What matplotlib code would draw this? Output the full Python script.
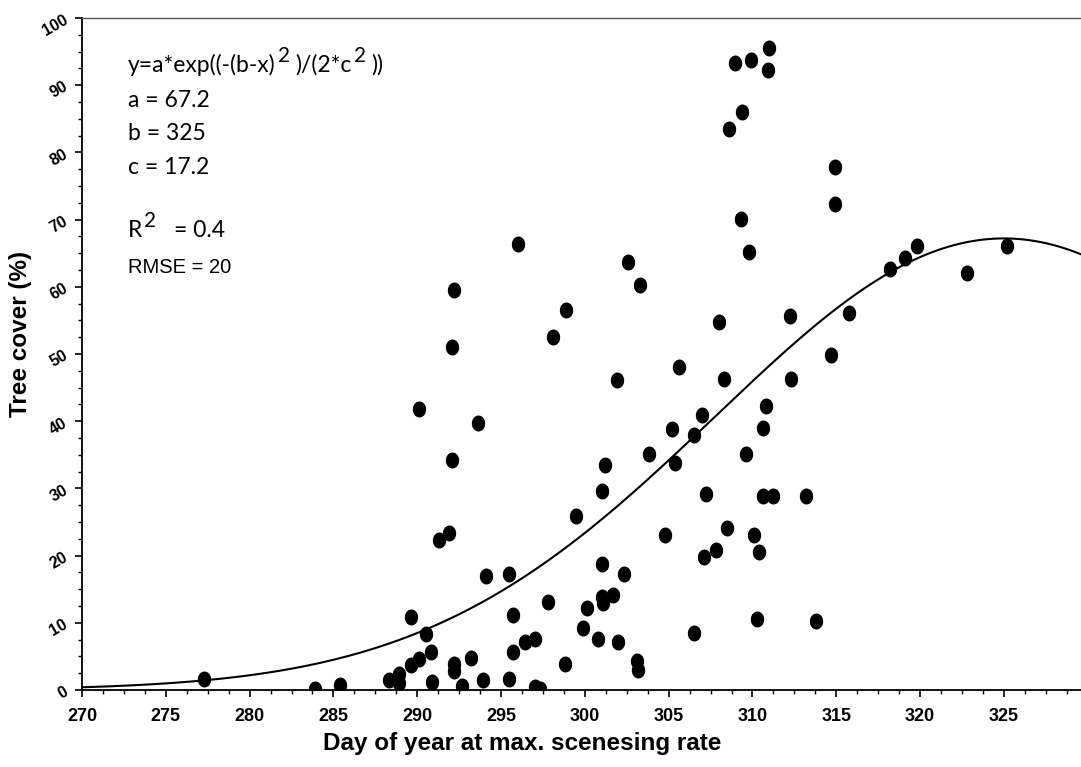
import matplotlib
matplotlib.use('Agg')
import matplotlib.pyplot as plt
import numpy as np
from matplotlib.path import Path
from matplotlib.ticker import MultipleLocator

# day of year at max. scenesing rate
day = [277.3, 283.9, 285.4, 288.3, 288.9, 288.9, 289.6, 290.1, 290.5, 290.8,
       290.9, 289.6, 292.2, 292.2, 292.7, 293.2, 293.9, 291.3, 291.9, 292.05,
       290.1, 293.6, 292.05, 292.2, 294.1, 295.5, 295.7, 295.7, 295.5, 296.4,
       297.0, 297.0, 297.3, 297.8, 298.8, 299.5, 298.1, 298.9, 299.9, 300.1,
       300.8, 301.0, 301.0, 301.1, 301.7, 301.0, 301.2, 301.9, 302.0, 302.35,
       303.1, 303.2, 303.8, 304.8, 305.2, 305.4, 305.6, 306.5, 306.5, 307.0,
       307.1, 307.2, 307.8, 308.0, 308.3, 308.5, 309.6, 310.1, 310.3, 310.4,
       310.65, 311.2, 310.65, 310.8, 313.2, 313.8, 314.7, 312.3, 312.25, 315.75,
       314.95, 314.9, 309.3, 309.8, 308.6, 309.4, 308.96, 309.9, 310.9, 311.0,
       302.6, 303.3, 296.0, 318.2, 319.1, 319.8, 322.8, 325.2]
# tree cover (%)
cover = [1.6, 0.1, 0.8, 1.5, 2.4, 1.1, 3.7, 4.6, 8.4, 5.7,
         1.2, 10.8, 3.9, 2.9, 0.6, 4.8, 1.5, 22.3, 23.4, 34.3,
         41.8, 39.8, 51.1, 59.5, 17.0, 17.2, 11.1, 5.6, 1.6, 7.1,
         7.6, 0.4, 0.2, 13.1, 3.9, 25.9, 52.6, 56.5, 9.2, 12.2,
         7.6, 18.8, 13.9, 12.9, 14.1, 29.6, 33.5, 46.2, 7.2, 17.3,
         4.3, 3.0, 35.1, 23.1, 38.9, 33.8, 48.0, 8.5, 38.0, 40.9,
         19.8, 29.1, 20.9, 54.7, 46.3, 24.1, 35.1, 23.1, 10.5, 20.6,
         28.9, 28.9, 39.0, 42.3, 28.9, 10.3, 49.8, 46.3, 55.6, 56.1,
         72.3, 77.8, 70.1, 65.2, 83.5, 86.0, 93.3, 93.8, 92.2, 95.6,
         63.7, 60.2, 66.4, 62.6, 64.3, 66.1, 62.1, 66.1]

# fitted gaussian parameters
a, b, c = 67.2, 325, 17.2

W, H = 1081, 767
fig = plt.figure(figsize=(W/100, H/100), dpi=100)
ax = fig.add_axes([82/W, 77/H, 1 - 82/W, 672/H])

# slightly tall dots
t = np.linspace(0, 2*np.pi, 40)
dot = Path(np.column_stack([0.82*np.cos(t), np.sin(t)]))
ax.plot(day, cover, linestyle='none', marker=dot, markersize=10.5, color='black')

xs = np.linspace(270, 330, 300)
ax.plot(xs, a*np.exp(-(b - xs)**2 / (2*c**2)), color='black', lw=1.5)

ax.set_xlim(270, 329.6)
ax.set_ylim(0, 100)
ax.spines['right'].set_visible(False)
ax.spines['top'].set_color('#555555')
ax.spines['top'].set_linewidth(1.0)
ax.spines['left'].set_linewidth(1.3)
ax.spines['bottom'].set_linewidth(1.3)

ax.xaxis.set_major_locator(MultipleLocator(5))
ax.xaxis.set_minor_locator(MultipleLocator(1.25))
ax.yaxis.set_major_locator(MultipleLocator(10))
ax.yaxis.set_minor_locator(MultipleLocator(2.5))
ax.tick_params(which='major', direction='out', length=5, width=1.2)
ax.tick_params(which='minor', direction='out', length=3, width=1.0)
ax.tick_params(axis='x', pad=8)

tick_font = ['Liberation Sans Narrow', 'Liberation Sans']
for lab in ax.get_xticklabels():
    lab.set_family(tick_font)
    lab.set_fontweight('bold')
    lab.set_fontsize(13)
for lab in ax.get_yticklabels():
    lab.set_family(tick_font)
    lab.set_fontweight('bold')
    lab.set_fontsize(11.5)
    lab.set_rotation(30)

ax.set_xlabel('Day of year at max. scenesing rate', family='Liberation Sans',
              fontweight='bold', fontsize=17.5)
ax.xaxis.set_label_coords(0.441, -0.062)
ax.set_ylabel('Tree cover (%)', family='Liberation Sans', fontweight='bold', fontsize=17.5)
ax.yaxis.set_label_coords(-0.05, 0.53)

renderer = fig.canvas.get_renderer()


def run(x, y, parts, family='Lato'):
    # parts: (text, rise in px, font size, gap after in px)
    for s, rise, size, gap in parts:
        tt = fig.text(x/W, 1 - (y - rise)/H, s, family=family, fontsize=size,
                      va='baseline', ha='left')
        x += tt.get_window_extent(renderer).width + gap


fs = 16.5
run(128, 72, [('y=a*exp((-(b-x)', 0, fs, 2), ('2', 10, fs*0.9, 6),
              (')/(2*c', 0, fs, 2), ('2', 10, fs*0.9, 5), ('))', 0, fs, 0)])
run(128, 107, [('a = 67.2', 0, fs, 0)])
run(128, 140, [('b = 325', 0, fs, 0)])
run(128, 174, [('c = 17.2', 0, fs, 0)])
run(128, 237, [('R', 0, fs, 2), ('2', 10, fs*0.9, 18), ('= 0.4', 0, fs, 0)])
run(128, 273, [('RMSE = 20', 0, 14.5, 0)], family='Liberation Sans')

fig.savefig('out.png', dpi=100)
